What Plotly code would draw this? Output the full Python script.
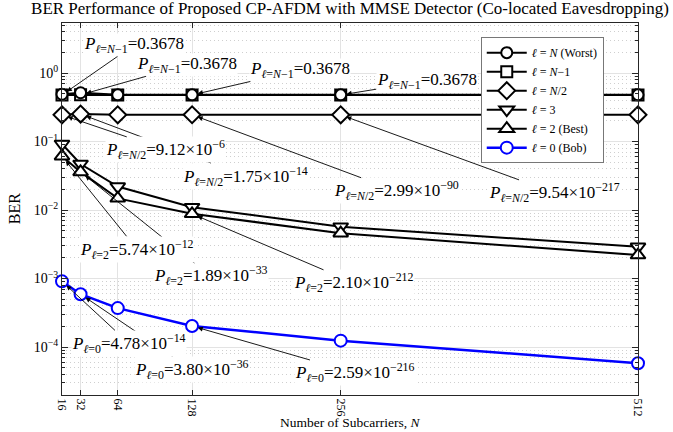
import math
import plotly.graph_objects as go

# ---------------- data ----------------
N_vals = [16, 32, 64, 128, 256, 512]
ber_worst = [0.49, 0.515, 0.48, 0.48, 0.48, 0.48]
ber_nm1 = [0.478, 0.48, 0.478, 0.478, 0.478, 0.478]
ber_half = [0.245, 0.252, 0.245, 0.246, 0.245, 0.245]
ber_l3 = [0.092, 0.047, 0.022, 0.011, 0.0057, 0.0029]
ber_l2 = [0.061, 0.036, 0.0148, 0.0088, 0.0046, 0.0022]
ber_bob = [9.1e-4, 5.9e-4, 3.7e-4, 2.03e-4, 1.24e-4, 5.8e-5]

x_ticks = [16, 32, 64, 128, 256, 512]
y_ticks = [1e-4, 1e-3, 1e-2, 1e-1, 1e0]
y_ticktext = ["10<sup>−4</sup>", "10<sup>−3</sup>", "10<sup>−2</sup>", "10<sup>−1</sup>", "10<sup>0</sup>"]

lab_nm1 = "<i>P</i><sub><i>ℓ</i>=<i>N</i>−1</sub>=0.3678"
lab_half = ["<i>P</i><sub><i>ℓ</i>=<i>N</i>/2</sub>=9.12×10<sup>−6</sup>",
            "<i>P</i><sub><i>ℓ</i>=<i>N</i>/2</sub>=1.75×10<sup>−14</sup>",
            "<i>P</i><sub><i>ℓ</i>=<i>N</i>/2</sub>=2.99×10<sup>−90</sup>",
            "<i>P</i><sub><i>ℓ</i>=<i>N</i>/2</sub>=9.54×10<sup>−217</sup>"]
lab_l2 = ["<i>P</i><sub><i>ℓ</i>=2</sub>=5.74×10<sup>−12</sup>",
          "<i>P</i><sub><i>ℓ</i>=2</sub>=1.89×10<sup>−33</sup>",
          "<i>P</i><sub><i>ℓ</i>=2</sub>=2.10×10<sup>−212</sup>"]
lab_bob = ["<i>P</i><sub><i>ℓ</i>=0</sub>=4.78×10<sup>−14</sup>",
           "<i>P</i><sub><i>ℓ</i>=0</sub>=3.80×10<sup>−36</sup>",
           "<i>P</i><sub><i>ℓ</i>=0</sub>=2.59×10<sup>−216</sup>"]

SERIF = "Liberation Serif"
BLACK = "#000000"
BLUE = "#0000ff"

fig = go.Figure()

def add(y, name, symbol, color, size, rank, lw=2):
    fig.add_trace(go.Scatter(
        x=N_vals, y=y, name=name, mode="lines+markers",
        line=dict(color=color, width=lw),
        marker=dict(symbol=symbol, size=size, color="white",
                    line=dict(color=color, width=2)),
        cliponaxis=False, legendrank=rank))

add(ber_nm1, "<i>ℓ</i> = <i>N</i>−1", "square", BLACK, 11, 2)
add(ber_worst, "<i>ℓ</i> = <i>N</i> (Worst)", "circle", BLACK, 11, 1)
add(ber_half, "<i>ℓ</i> = <i>N</i>/2", "diamond", BLACK, 13, 3)
add(ber_l3, "<i>ℓ</i> = 3", "triangle-down", BLACK, 13, 4)
add(ber_l2, "<i>ℓ</i> = 2 (Best)", "triangle-up", BLACK, 13, 5)
add(ber_bob, "<i>ℓ</i> = 0 (Bob)", "circle", BLUE, 12, 6, lw=2.5)

annotations = []

def ann(xv, yv, text, dx, dy):
    annotations.append(dict(
        x=xv, y=math.log10(yv), xref="x", yref="y", text=text, showarrow=True,
        ax=dx, ay=dy, arrowhead=2, arrowsize=1.1, arrowwidth=0.9,
        arrowcolor="black", standoff=6, bgcolor="white", borderpad=0,
        font=dict(family=SERIF, size=17, color="black")))

# N-1 labels
ann(N_vals[4], ber_nm1[4], lab_nm1, 86, -14)
ann(N_vals[3], ber_nm1[3], lab_nm1, 108, -25)
ann(N_vals[1], ber_nm1[1], lab_nm1, 106, -30)
ann(N_vals[0], ber_nm1[0], lab_nm1, 72, -50)
# N/2 labels
ann(N_vals[4], ber_half[4], lab_half[3], 214, 78)
ann(N_vals[3], ber_half[3], lab_half[2], 204, 76)
ann(N_vals[1], ber_half[1], lab_half[1], 165, 62)
ann(N_vals[0], ber_half[0], lab_half[0], 103, 35)
# l=2 labels
ann(N_vals[3], ber_l2[3], lab_l2[2], 162, 69)
ann(N_vals[1], ber_l2[1], lab_l2[1], 130, 104)
ann(N_vals[0], ber_l2[0], lab_l2[0], 75, 93)
# Bob labels
ann(N_vals[3], ber_bob[3], lab_bob[2], 163, 47)
ann(N_vals[1], ber_bob[1], lab_bob[1], 111, 75)
ann(N_vals[0], ber_bob[0], lab_bob[0], 67, 62)

# axis titles as paper annotations
annotations.append(dict(text="Number of Subcarriers, <i>N</i>", xref="paper", yref="paper",
                        x=0.5, y=-0.075, xanchor="center", yanchor="middle",
                        showarrow=False, font=dict(family=SERIF, size=13.5, color="black")))
annotations.append(dict(text="BER", xref="paper", yref="paper", textangle=-90,
                        x=-0.083, y=0.5, xanchor="center", yanchor="middle",
                        showarrow=False, font=dict(family=SERIF, size=16, color="black")))

minor_vals = [k * 10.0 ** e for e in range(-5, 1) for k in range(2, 10)]

fig.update_layout(
    width=673, height=432,
    margin=dict(l=62, r=35, t=23, b=37),
    paper_bgcolor="white", plot_bgcolor="white",
    font=dict(family=SERIF, size=13, color="black"),
    title=dict(text="BER Performance of Proposed CP-AFDM with MMSE Detector (Co-located Eavesdropping)",
               x=0.5, xref="paper", y=0.995, yanchor="top",
               font=dict(family=SERIF, size=17, color="black")),
    legend=dict(x=0.727, y=0.962, xanchor="left", yanchor="top",
                bgcolor="white", bordercolor="#777777", borderwidth=1,
                font=dict(family=SERIF, size=12), itemwidth=40,
                tracegroupgap=0),
    annotations=annotations,
    showlegend=True,
)

fig.update_xaxes(
    range=[16, 512], tickmode="array", tickvals=x_ticks, automargin=False,
    tickangle=90, ticks="inside", ticklen=5, tickcolor="#262626",
    showline=True, linecolor="#262626", linewidth=1, mirror="ticks",
    showgrid=True, gridcolor="#e3e3e3", gridwidth=1, zeroline=False,
    tickfont=dict(family=SERIF, size=12),
)
fig.update_yaxes(
    type="log", range=[-4.70, 0.73], tickmode="array", tickvals=y_ticks,
    ticktext=y_ticktext, ticks="inside", ticklen=6, tickcolor="#262626",
    automargin=False,
    showline=True, linecolor="#262626", linewidth=1, mirror="ticks",
    showgrid=True, gridcolor="#e3e3e3", gridwidth=1, zeroline=False,
    tickfont=dict(family=SERIF, size=14),
    minor=dict(tickmode="array", tickvals=minor_vals, ticks="inside", ticklen=3,
               tickcolor="#262626", showgrid=True, gridcolor="#cfcfcf",
               griddash="1px,3px", gridwidth=1),
)

fig.write_html("out.html")
